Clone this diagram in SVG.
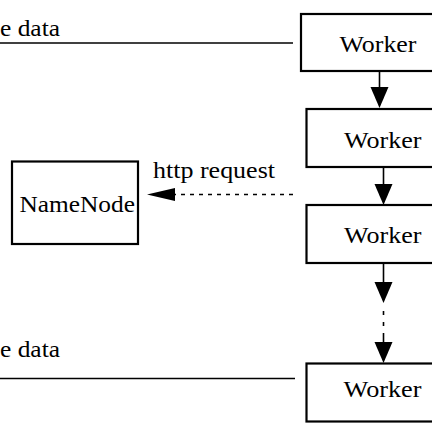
<svg xmlns="http://www.w3.org/2000/svg" width="432" height="432" viewBox="0 0 432 432">
<defs>
<style>
.box{fill:#fff;stroke:#000;stroke-width:2.2}
.t{font-family:"Liberation Serif","Times New Roman",serif;font-size:23px;fill:#000}
.ln{stroke:#000;stroke-width:1.6;fill:none}
.ah{fill:#000}
</style>
</defs>
<rect width="432" height="432" fill="#fff"/>
<g id="connectors">
<line class="ln" x1="0" y1="43" x2="293" y2="43"/>
<line class="ln" x1="0" y1="378.5" x2="295" y2="378.5"/>
<line class="ln" x1="379.5" y1="71" x2="379.5" y2="90"/>
<polygon class="ah" points="370.5,87 388.5,87 379.5,108"/>
<line class="ln" x1="383.5" y1="167" x2="383.5" y2="186"/>
<polygon class="ah" points="374.5,184 392.5,184 383.5,205"/>
<line class="ln" x1="383.5" y1="263" x2="383.5" y2="285"/>
<polygon class="ah" points="374.5,282 392.5,282 383.5,303"/>
<line class="ln" x1="383.5" y1="311" x2="383.5" y2="315" stroke-width="2"/>
<line class="ln" x1="383.5" y1="322" x2="383.5" y2="326" stroke-width="2"/>
<line class="ln" x1="383.5" y1="333" x2="383.5" y2="345"/>
<polygon class="ah" points="374.5,342 392.5,342 383.5,363"/>
<line class="ln" x1="293" y1="194.5" x2="172" y2="194.5" stroke-width="2" stroke-dasharray="4,5"/>
<polygon class="ah" points="147,194.5 175,188 175,201"/>
<text class="t" x="0" y="36" textLength="60" lengthAdjust="spacingAndGlyphs">e data</text>
<text class="t" x="0" y="357" textLength="60" lengthAdjust="spacingAndGlyphs">e data</text>
<text class="t" x="153" y="178" textLength="122" lengthAdjust="spacingAndGlyphs">http request</text>
</g>
<g id="worker1">
<rect class="box" x="301" y="14" width="160" height="57"/>
<text class="t" x="339.5" y="52" textLength="77" lengthAdjust="spacingAndGlyphs">Worker</text>
</g>
<g id="worker2">
<rect class="box" x="306.5" y="109" width="160" height="58"/>
<text class="t" x="344" y="148" textLength="77.5" lengthAdjust="spacingAndGlyphs">Worker</text>
</g>
<g id="worker3">
<rect class="box" x="306.5" y="205" width="160" height="58"/>
<text class="t" x="344" y="243" textLength="77.5" lengthAdjust="spacingAndGlyphs">Worker</text>
</g>
<g id="worker4">
<rect class="box" x="306.5" y="363.5" width="160" height="58"/>
<text class="t" x="343.5" y="397" textLength="78" lengthAdjust="spacingAndGlyphs">Worker</text>
</g>
<g id="namenode">
<rect class="box" x="12" y="161.5" width="126" height="82.5"/>
<text class="t" x="19.5" y="212" textLength="115.5" lengthAdjust="spacingAndGlyphs">NameNode</text>
</g>
</svg>
